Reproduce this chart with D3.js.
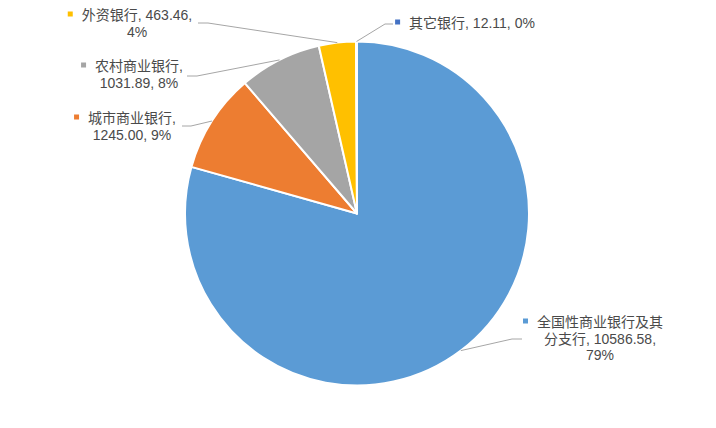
<!DOCTYPE html>
<html>
<head>
<meta charset="utf-8">
<script src="https://cdn.jsdelivr.net/npm/d3@7"></script>
<style>
html,body{margin:0;padding:0;background:#fff;}
svg{display:block;}
text{font-family:"Liberation Sans","Noto Sans CJK SC",sans-serif;font-size:14px;fill:#4a4a4a;}
</style>
</head>
<body>
<svg id="chart" width="716" height="428"></svg>
<script>
// ---- data ----
const categories = ["全国性商业银行及其分支行", "城市商业银行", "农村商业银行", "外资银行", "其它银行"];
const values = [10586.58, 1245.00, 1031.89, 463.46, 12.11];
const percentLabels = ["79%", "9%", "8%", "4%", "0%"];
const valueLabels = ["10586.58", "1245.00", "1031.89", "463.46", "12.11"];
// label text lines as shown in the chart
const labelLines = [
  ["全国性商业银行及其", "分支行, 10586.58,", "79%"],
  ["城市商业银行,", "1245.00, 9%"],
  ["农村商业银行,", "1031.89, 8%"],
  ["外资银行, 463.46,", "4%"],
  ["其它银行, 12.11, 0%"]
];

// ---- layout / style ----
const colors = ["#5B9BD5", "#ED7D31", "#A5A5A5", "#FFC000", "#4472C4"];
const cx = 357, cy = 213.5, R = 172;
const lineH = 16.5;
// label block: center x, first baseline y
const labelPos = [
  {x: 600, y: 327},
  {x: 132, y: 123},
  {x: 139, y: 71},
  {x: 137, y: 20},
  {x: 472, y: 28}
];
// leader: label-side end point and elbow point
const leaderPos = [
  {end: [522, 339], elbow: [512, 339]},
  {end: [182, 126], elbow: [191, 126]},
  {end: [187, 76], elbow: [197, 76]},
  {end: [198, 23], elbow: [208, 23]},
  {end: [393, 24], elbow: [385, 24]}
];

const svg = d3.select("#chart");
const g = svg.append("g").attr("transform", `translate(${cx},${cy})`);

const pie = d3.pie().sort(null).value(d => d)(values);
const arc = d3.arc().innerRadius(0).outerRadius(R);

g.selectAll("path.slice")
  .data(pie)
  .join("path")
  .attr("class", "slice")
  .attr("d", arc)
  .attr("fill", (d, i) => colors[i])
  .attr("stroke", "#fff")
  .attr("stroke-width", 2)
  .attr("stroke-linejoin", "round");

// leader lines
pie.forEach((d, i) => {
  const a = (d.startAngle + d.endAngle) / 2;
  const px = cx + R * Math.sin(a);
  const py = cy - R * Math.cos(a);
  const lp = leaderPos[i];
  svg.append("polyline")
    .attr("points", [[px, py], lp.elbow, lp.end].map(p => p.join(",")).join(" "))
    .attr("fill", "none")
    .attr("stroke", "#A6A6A6")
    .attr("stroke-width", 1);
});

// labels
labelLines.forEach((lines, i) => {
  const pos = labelPos[i];
  const tx = svg.append("text")
    .attr("x", pos.x)
    .attr("y", pos.y)
    .attr("text-anchor", "middle");
  const spans = lines.map((t, j) => tx.append("tspan")
    .attr("x", pos.x)
    .attr("y", pos.y + j * lineH)
    .text(t));
  const firstW = spans[0].node().getComputedTextLength();
  const startX = pos.x - firstW / 2;
  svg.append("rect")
    .attr("x", startX - 14)
    .attr("y", pos.y - 8.5)
    .attr("width", 5)
    .attr("height", 5)
    .attr("fill", colors[i]);
});
</script>
</body>
</html>
